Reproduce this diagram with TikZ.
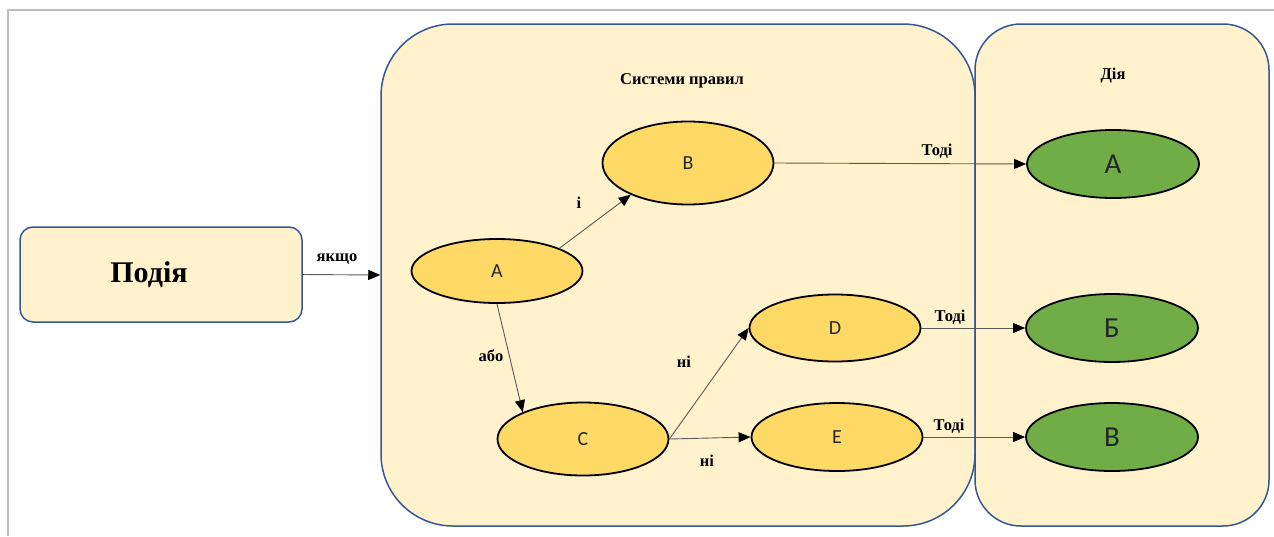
\documentclass[tikz,border=0pt]{standalone}
\usepackage{fontspec}
\setmainfont{Liberation Serif}
\newfontfamily\calibri{Carlito}
\usetikzlibrary{shapes.geometric,arrows.meta}

\definecolor{panelfill}{RGB}{255,242,204}
\definecolor{panelline}{RGB}{52,88,150}
\definecolor{condfill}{RGB}{255,217,102}
\definecolor{actfill}{RGB}{112,173,71}
\definecolor{linkgray}{RGB}{90,90,90}
\definecolor{framegray}{RGB}{190,190,190}
\definecolor{lettergray}{RGB}{38,38,38}

\tikzset{
  panel/.style={draw=panelline, line width=1.5pt, fill=panelfill, inner sep=0pt},
  cond/.style={ellipse, draw=black, line width=1.8pt, fill=condfill, inner sep=0pt,
    minimum width=171pt, text=lettergray, font=\calibri\fontsize{20}{22}\selectfont},
  act/.style={ellipse, draw=black, line width=1.8pt, fill=actfill, inner sep=0pt,
    minimum width=172pt, minimum height=68pt, text=lettergray,
    font=\calibri\fontsize{29}{32}\selectfont},
  link/.style={draw=linkgray, line width=0.9pt,
    -{Triangle[length=12pt,width=10pt,color=black]}},
  tag/.style={font=\bfseries\fontsize{16.5}{18}\selectfont, text=black, inner sep=0pt},
}

\begin{document}
\begin{tikzpicture}[x=1pt,y=-1pt]
  \useasboundingbox (0,0) rectangle (1274,536);

  % outer frame (top and left edges)
  \draw[framegray, line width=1.6pt] (8,536) -- (8,10) -- (1274,10);

  % panels
  \node[panel, rounded corners=72pt, minimum width=594pt, minimum height=502pt] (rules) at (678,275) {};
  \node[panel, rounded corners=46pt, minimum width=294pt, minimum height=502pt] (acts) at (1122,275) {};
  \node[panel, rounded corners=13pt, minimum width=282pt, minimum height=95pt] (ev) at (161,274.5) {};
  \node[font=\bfseries\fontsize{30}{34}\selectfont, inner sep=0pt] (evT) at (149,275) {Подія};

  \node[tag] (rulesT) at (682,81) {Системи правил};
  \node[tag] (actsT) at (1113,76) {Дія};

  % conditions
  \node[cond, minimum height=64pt] (A) at (497,271) {A};
  \node[cond, minimum height=83pt] (B) at (688,163) {B};
  \node[cond, minimum height=73pt] (C) at (583,439) {C};
  \node[cond, minimum height=67pt] (D) at (835,328) {D};
  \node[cond, minimum height=68pt] (E) at (837,437) {E};

  % actions
  \node[act] (GA) at (1113,164) {А};
  \node[act] (GB) at (1112,328) {Б};
  \node[act] (GV) at (1112,437) {В};

  % connectors
  \draw[link] (ev.east) -- (rules.west);
  \draw[link] (A.20) -- (B.209);
  \draw[link] (A.south) -- (C.156);
  \draw[link] (C.east) -- (D.west);
  \draw[link] (C.east) -- (E.west);
  \draw[link] (B.east) -- (GA.west);
  \draw[link] (D.east) -- (GB.west);
  \draw[link] (E.east) -- (GV.west);

  % connector labels
  \node[tag] (l1) at (337,259) {якщо};
  \node[tag] (l2) at (579,203) {і};
  \node[tag] (l3) at (491,356) {або};
  \node[tag] (l4) at (684,362) {ні};
  \node[tag] (l5) at (707,461) {ні};
  \node[tag] (l6) at (937,151) {Тоді};
  \node[tag] (l7) at (950,317) {Тоді};
  \node[tag] (l8) at (949,426) {Тоді};
\end{tikzpicture}
\end{document}
